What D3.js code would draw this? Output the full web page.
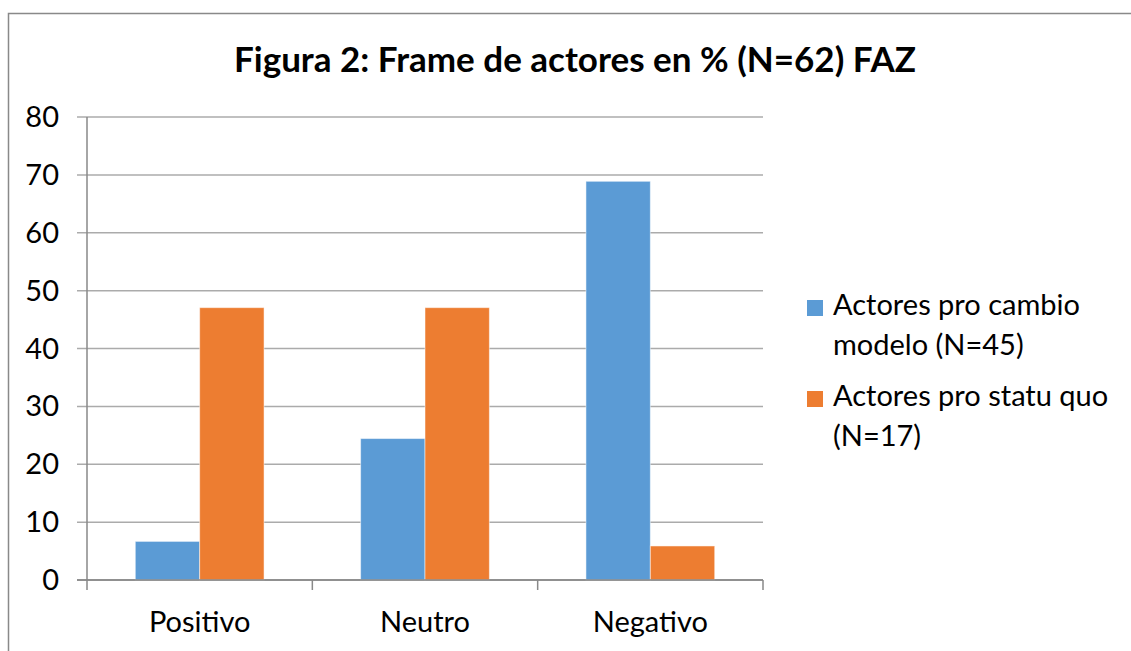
<!DOCTYPE html>
<html><head><meta charset="utf-8">
<script src="https://cdn.jsdelivr.net/npm/d3@7"></script>
<style>body{margin:0;background:#fff}svg{display:block}text{font-family:Lato,"Open Sans",sans-serif;fill:#000}</style>
</head><body><svg id="c" width="1131" height="651"></svg>
<script>
const categories = ["Positivo", "Neutro", "Negativo"];
const seriesNames = ["Actores pro cambio modelo (N=45)", "Actores pro statu quo (N=17)"];
const cambio = [6.67, 24.44, 68.89];
const statuQuo = [47.06, 47.06, 5.88];
const yTicks = [0, 10, 20, 30, 40, 50, 60, 70, 80];
const titleText = "Figura 2: Frame de actores en % (N=62) FAZ";
const legendLines = [["Actores pro cambio", "modelo (N=45)"], ["Actores pro statu quo", "(N=17)"]];
const colors = ["#5B9BD5", "#ED7D31"];

const svg = d3.select("#c");
svg.append("rect").attr("x", 8.5).attr("y", 13.5).attr("width", 1200).attr("height", 700)
  .attr("fill", "#fff").attr("stroke", "#898989").attr("stroke-width", 1.5);

const L = 87, R = 763, T = 117, B = 580;
const x0 = d3.scaleBand().domain(categories).range([L, R]).paddingInner(0).paddingOuter(0);
const x1 = d3.scaleBand().domain([0, 1]).range([0, x0.bandwidth()]).paddingInner(0).paddingOuter(0.75);
const y = d3.scaleLinear().domain([0, 80]).range([B, T]);

svg.append("g").selectAll("line").data(yTicks).join("line")
  .attr("x1", L - 10).attr("x2", R).attr("y1", d => y(d)).attr("y2", d => y(d))
  .attr("stroke", d => d === 0 ? "#898989" : "#ababab").attr("stroke-width", 1.5);

const data = categories.map((c, i) => ({c, v: [cambio[i], statuQuo[i]]}));
const g = svg.append("g");
data.forEach(d => {
  d.v.forEach((v, s) => {
    g.append("rect")
      .attr("x", x0(d.c) + x1(s)).attr("width", x1.bandwidth())
      .attr("y", y(v)).attr("height", y(0) - y(v))
      .attr("fill", colors[s]).attr("stroke", "#fff").attr("stroke-opacity", 0.5).attr("stroke-width", 1);
  });
});

svg.append("line").attr("x1", L).attr("x2", L).attr("y1", T).attr("y2", B)
  .attr("stroke", "#898989").attr("stroke-width", 1.5);
svg.append("line").attr("x1", L - 10).attr("x2", R).attr("y1", B).attr("y2", B)
  .attr("stroke", "#898989").attr("stroke-width", 1.5);
const xt = [L].concat(categories.map(c => x0(c) + x0.bandwidth()));
svg.append("g").selectAll("line").data(xt).join("line")
  .attr("x1", d => d).attr("x2", d => d).attr("y1", B).attr("y2", B + 10)
  .attr("stroke", "#898989").attr("stroke-width", 1.5);

svg.append("g").selectAll("text").data(yTicks).join("text")
  .attr("x", 59).attr("y", d => y(d) + 10).attr("text-anchor", "end")
  .attr("font-size", 29).text(d => d);

svg.append("g").selectAll("text").data(categories).join("text")
  .attr("x", d => x0(d) + x0.bandwidth() / 2).attr("y", 632).attr("text-anchor", "middle")
  .attr("font-size", 29).text(d => d);

svg.append("text").attr("x", 575).attr("y", 72).attr("text-anchor", "middle")
  .attr("font-size", 35).attr("font-weight", "bold").text(titleText);

const ly = [300, 391];
legendLines.forEach((lines, i) => {
  svg.append("rect").attr("x", 807).attr("y", ly[i]).attr("width", 16).attr("height", 16).attr("fill", colors[i]);
  lines.forEach((t, j) => {
    svg.append("text").attr("x", 833).attr("y", ly[i] + 15 + j * 40).attr("font-size", 29).text(t);
  });
});
</script></body></html>
